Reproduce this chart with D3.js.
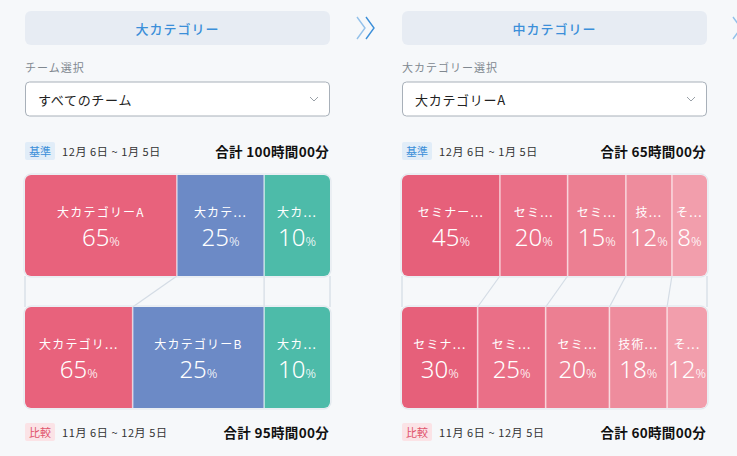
<!DOCTYPE html>
<html>
<head>
<meta charset="utf-8">
<script src="https://cdn.jsdelivr.net/npm/d3@7"></script>
<style>
  html, body { margin: 0; padding: 0; background: #F6F8FA; }
  svg { display: block; font-family: "Noto Sans CJK JP", "Noto Sans", sans-serif; }
</style>
</head>
<body>
<script>
// panel texts
var panelTitles = ["大カテゴリー", "中カテゴリー"];
var selectLabels = ["チーム選択", "大カテゴリー選択"];
var selectValues = ["すべてのチーム", "大カテゴリーA"];
var basePeriod = "12月 6日 ~ 1月 5日";
var compPeriod = "11月 6日 ~ 12月 5日";
var baseTotals = ["合計 100時間00分", "合計 65時間00分"];
var compTotals = ["合計 95時間00分", "合計 60時間00分"];

// 大カテゴリー (left)
var bigBaseNames = ["大カテゴリーA", "大カテ...", "大カ..."];
var bigBasePct = [65, 25, 10];
var bigBaseShare = [49.8, 28.6, 21.6];
var bigCompNames = ["大カテゴリ...", "大カテゴリーB", "大カ..."];
var bigCompPct = [65, 25, 10];
var bigCompShare = [35.3, 43.1, 21.6];
var bigColors = ["#E8627C", "#6C8AC6", "#4DBBA9"];

// 中カテゴリー (right)
var midBaseNames = ["セミナー...", "セミ...", "セミ...", "技...", "そ..."];
var midBasePct = [45, 20, 15, 12, 8];
var midBaseShare = [32.1, 22.2, 19.1, 15.1, 11.5];
var midCompNames = ["セミナ...", "セミ...", "セミ...", "技術...", "そ..."];
var midCompPct = [30, 25, 20, 18, 12];
var midCompShare = [24.8, 22.3, 20.9, 18.9, 13.1];
var midColors = ["#E6607A", "#EA6F87", "#EC7F92", "#EE8C9D", "#F29EAC"];

var W = 737, H = 456;
var panelW = 305;
var topY = 175, barH = 101, botY = 307;

var svg = d3.select("body").append("svg")
    .attr("width", W)
    .attr("height", H);

var defs = svg.append("defs");

// chevrons between panels
function chevron(x, color) {
  svg.append("polyline")
      .attr("points", [[x, 17], [x + 8, 28], [x, 39]].join(" "))
      .attr("fill", "none")
      .attr("stroke", color)
      .attr("stroke-width", 1.4);
}
chevron(357, "#93C1EA");
chevron(366, "#3B8FD9");
chevron(733, "#93C1EA");

function drawPanel(idx, x0, base, comp, colors) {
  var g = svg.append("g");

  // header
  g.append("rect")
      .attr("x", x0).attr("y", 11)
      .attr("width", panelW).attr("height", 34)
      .attr("rx", 6)
      .attr("fill", "#E7ECF3");
  g.append("text")
      .attr("x", x0 + panelW / 2).attr("y", 28)
      .attr("text-anchor", "middle")
      .attr("dominant-baseline", "central")
      .attr("font-size", 13)
      .attr("font-weight", 500)
      .attr("letter-spacing", 1)
      .attr("fill", "#3B8FD9")
      .text(panelTitles[idx]);

  // select
  g.append("text")
      .attr("x", x0).attr("y", 67)
      .attr("dominant-baseline", "central")
      .attr("font-size", 11)
      .attr("letter-spacing", 1)
      .attr("fill", "#808890")
      .text(selectLabels[idx]);
  g.append("rect")
      .attr("x", x0 + 0.5).attr("y", 82)
      .attr("width", panelW - 1).attr("height", 34)
      .attr("rx", 4)
      .attr("fill", "#fff")
      .attr("stroke", "#A8B0B9");
  g.append("text")
      .attr("x", x0 + 13).attr("y", 99)
      .attr("dominant-baseline", "central")
      .attr("font-size", 13)
      .attr("letter-spacing", 0.7)
      .attr("fill", "#222")
      .text(selectValues[idx]);
  g.append("polyline")
      .attr("points", [[x0 + panelW - 20, 97], [x0 + panelW - 16, 101], [x0 + panelW - 12, 97]].join(" "))
      .attr("fill", "none")
      .attr("stroke", "#9AA1A8")
      .attr("stroke-width", 1);

  // period rows
  function periodRow(y, badge, badgeBg, badgeColor, period, total) {
    g.append("rect")
        .attr("x", x0).attr("y", y - 9)
        .attr("width", 30).attr("height", 18)
        .attr("rx", 2)
        .attr("fill", badgeBg);
    g.append("text")
        .attr("x", x0 + 15).attr("y", y)
        .attr("text-anchor", "middle")
        .attr("dominant-baseline", "central")
        .attr("font-size", 11)
        .attr("fill", badgeColor)
        .text(badge);
    g.append("text")
        .attr("x", x0 + 37).attr("y", y)
        .attr("dominant-baseline", "central")
        .attr("font-size", 11)
        .attr("letter-spacing", 0.6)
        .attr("fill", "#333")
        .text(period);
    g.append("text")
        .attr("x", x0 + panelW - 1).attr("y", y)
        .attr("text-anchor", "end")
        .attr("dominant-baseline", "central")
        .attr("font-size", 13.5)
        .attr("font-weight", 700)
        .attr("letter-spacing", 0.3)
        .attr("fill", "#111")
        .text(total);
  }
  periodRow(151, "基準", "#E1EDF8", "#3B8FD9", basePeriod, baseTotals[idx]);
  periodRow(432, "比較", "#FBE3E6", "#E0546C", compPeriod, compTotals[idx]);

  var xTop = d3.scaleLinear().domain([0, d3.sum(base.share)]).range([x0, x0 + panelW]);
  var xBot = d3.scaleLinear().domain([0, d3.sum(comp.share)]).range([x0, x0 + panelW]);
  var cumTop = [0].concat(Array.from(d3.cumsum(base.share)));
  var cumBot = [0].concat(Array.from(d3.cumsum(comp.share)));

  // connectors between the two bars
  g.selectAll("line.conn")
    .data(d3.range(cumTop.length))
    .enter()
    .append("line")
      .attr("class", "conn")
      .attr("x1", function (i) { return xTop(cumTop[i]); })
      .attr("x2", function (i) { return xBot(cumBot[i]); })
      .attr("y1", topY + barH)
      .attr("y2", botY)
      .attr("stroke", "#D4DCE5")
      .attr("stroke-width", 1.2);

  function bar(y, d, x, cum, key) {
    var clipId = "clip" + idx + key;
    defs.append("clipPath").attr("id", clipId)
      .append("rect")
        .attr("x", x0).attr("y", y)
        .attr("width", panelW).attr("height", barH)
        .attr("rx", 6);

    g.append("rect")
        .attr("x", x0 - 1).attr("y", y - 1)
        .attr("width", panelW + 2).attr("height", barH + 2)
        .attr("rx", 7)
        .attr("fill", "none")
        .attr("stroke", "#DFE5EC");

    var bg = g.append("g").attr("clip-path", "url(#" + clipId + ")");
    var segs = d.share.map(function (s, i) {
      return { x: x(cum[i]), w: x(cum[i + 1]) - x(cum[i]), name: d.names[i], pct: d.pct[i], color: colors[i] };
    });

    bg.selectAll("rect.seg")
      .data(segs)
      .enter()
      .append("rect")
        .attr("class", "seg")
        .attr("x", function (s) { return s.x; })
        .attr("y", y)
        .attr("width", function (s) { return s.w; })
        .attr("height", barH)
        .attr("fill", function (s) { return s.color; });

    bg.selectAll("line.div")
      .data(segs.slice(1))
      .enter()
      .append("line")
        .attr("class", "div")
        .attr("x1", function (s) { return s.x; })
        .attr("x2", function (s) { return s.x; })
        .attr("y1", y).attr("y2", y + barH)
        .attr("stroke", "rgba(255,255,255,0.6)")
        .attr("stroke-width", 1.6);

    bg.selectAll("text.name")
      .data(segs)
      .enter()
      .append("text")
        .attr("class", "name")
        .attr("x", function (s) { return s.x + s.w / 2; })
        .attr("y", y + 36)
        .attr("text-anchor", "middle")
        .attr("dominant-baseline", "central")
        .attr("font-size", 12)
        .attr("letter-spacing", 1.2)
        .attr("fill", "#fff")
        .text(function (s) { return s.name; });

    // numbers in a latin face so the label boxes stay apart
    var pt = bg.selectAll("text.pct")
      .data(segs)
      .enter()
      .append("text")
        .attr("class", "pct")
        .attr("x", function (s) { return s.x + s.w / 2; })
        .attr("y", y + 71)
        .attr("text-anchor", "middle")
        .attr("font-family", "'Noto Sans', sans-serif")
        .attr("fill", "#fff");
    pt.append("tspan")
        .attr("font-size", 24)
        .attr("font-weight", 300)
        .text(function (s) { return s.pct; });
    pt.append("tspan")
        .attr("font-size", 13)
        .attr("font-weight", 300)
        .text("%");
  }

  bar(topY, base, xTop, cumTop, "t");
  bar(botY, comp, xBot, cumBot, "b");
}

drawPanel(0, 25,
  { names: bigBaseNames, pct: bigBasePct, share: bigBaseShare },
  { names: bigCompNames, pct: bigCompPct, share: bigCompShare },
  bigColors);
drawPanel(1, 402,
  { names: midBaseNames, pct: midBasePct, share: midBaseShare },
  { names: midCompNames, pct: midCompPct, share: midCompShare },
  midColors);
</script>
</body>
</html>
